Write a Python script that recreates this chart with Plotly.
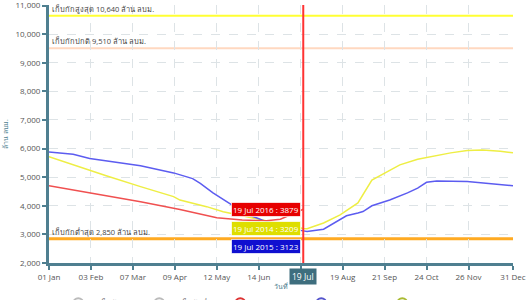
import plotly.graph_objects as go

# ---------------- data ----------------
dates_2016 = ["2016-01-01", "2016-02-02", "2016-03-13", "2016-04-13", "2016-05-12",
              "2016-06-01", "2016-06-20", "2016-07-01", "2016-07-08", "2016-07-14", "2016-07-19"]
vals_2016 = [4700, 4460, 4140, 3870, 3580, 3500, 3480, 3530, 3650, 3780, 3879]

dates_2015 = ["2016-01-01", "2016-01-20", "2016-02-02", "2016-03-13", "2016-04-08", "2016-04-23",
              "2016-04-29", "2016-05-09", "2016-05-25", "2016-05-30", "2016-06-17", "2016-06-23",
              "2016-07-01", "2016-07-10", "2016-07-19", "2016-07-22", "2016-08-04", "2016-08-11",
              "2016-08-22", "2016-08-31", "2016-09-04", "2016-09-11", "2016-09-25", "2016-10-09",
              "2016-10-17", "2016-10-24", "2016-11-01", "2016-11-25", "2016-12-15", "2016-12-31"]
vals_2015 = [5880, 5800, 5650, 5400, 5150, 4950,
             4780, 4450, 4000, 3800, 3500, 3420,
             3300, 3200, 3123, 3100, 3180, 3360,
             3650, 3750, 3800, 4000, 4200, 4450,
             4620, 4820, 4870, 4850, 4780, 4700]

dates_2014 = ["2016-01-01", "2016-01-20", "2016-02-15", "2016-03-13", "2016-04-08", "2016-04-13",
              "2016-05-04", "2016-05-17", "2016-06-17", "2016-07-19", "2016-07-22", "2016-08-04",
              "2016-08-17", "2016-08-31", "2016-09-11", "2016-09-23", "2016-10-03", "2016-10-17",
              "2016-10-29", "2016-11-12", "2016-11-25", "2016-12-07", "2016-12-21", "2016-12-31"]
vals_2014 = [5720, 5430, 5050, 4670, 4320, 4200,
             3970, 3790, 3500, 3209, 3200, 3400,
             3680, 4100, 4900, 5190, 5430, 5630,
             5740, 5850, 5930, 5950, 5910, 5850]

ref_levels = [10640, 9510, 2850]
ref_labels = ["เก็บกักสูงสุด 10,640 ล้าน ลบม.", "เก็บกักปกติ 9,510 ล้าน ลบม.", "เก็บกักต่ำสุด 2,850 ล้าน ลบม."]

x_ticks = ["2016-01-01", "2016-02-03", "2016-03-07", "2016-04-09", "2016-05-12", "2016-06-14",
           "2016-07-17", "2016-08-19", "2016-09-21", "2016-10-24", "2016-11-26", "2016-12-31"]
x_ticktext = ["01 Jan", "03 Feb", "07 Mar", "09 Apr", "12 May", "14 Jun",
              "17 Jul", "19 Aug", "21 Sep", "24 Oct", "26 Nov", "31 Dec"]
y_ticks = [2000, 3000, 4000, 5000, 6000, 7000, 8000, 9000, 10000, 11000]

cursor_date = "2016-07-19"
cursor_label = "19 Jul"
cursor_series = ["2016", "2014", "2015"]
cursor_values = [3879, 3209, 3123]

legend_names = ["เก็บกักสูงสุด", "เก็บกักต่ำสุด", "2016", "2015", "2014"]

# ---------------- style ----------------
FONT = "Open Sans"
AXIS = "#4f7f90"
C16, C15, C14 = "#f05050", "#5c5cf0", "#eeee44"
ref_colors = ["#ffff33", "#ffd8c0", "#ffaa22"]
ref_widths = [2, 2, 3]
tip_colors = {"2016": "#e60000", "2014": "#dede00", "2015": "#1010d0"}
tip_shift = {"2016": 0, "2014": 0, "2015": -16}
legend_colors = ["#bbbbbb", "#bbbbbb", "#dd3333", "#5555cc", "#aabb33"]

fig = go.Figure()

for lvl, col, w in zip(ref_levels, ref_colors, ref_widths):
    fig.add_hline(y=lvl, line=dict(color=col, width=w), layer="below")

fig.add_trace(go.Scatter(x=dates_2014, y=vals_2014, mode="lines",
                         line=dict(color=C14, width=1.5), showlegend=False))
fig.add_trace(go.Scatter(x=dates_2015, y=vals_2015, mode="lines",
                         line=dict(color=C15, width=1.5), showlegend=False))
fig.add_trace(go.Scatter(x=dates_2016, y=vals_2016, mode="lines",
                         line=dict(color=C16, width=1.5), showlegend=False))

for name, col in zip(legend_names, legend_colors):
    fig.add_trace(go.Scatter(x=[None], y=[None], mode="markers", name=name,
                             marker=dict(symbol="circle", size=10, color="white",
                                         line=dict(color=col, width=2))))

# crosshair
fig.add_vline(x=cursor_date, line=dict(color="#ff3333", width=2))

anns = []
for lvl, txt in zip(ref_levels, ref_labels):
    anns.append(dict(x=0, xref="paper", y=lvl, yref="y", text=txt, showarrow=False,
                     xanchor="left", yanchor="bottom", xshift=1, yshift=0,
                     font=dict(family=FONT, size=7.5, color="#444")))

for s, v in zip(cursor_series, cursor_values):
    anns.append(dict(x=cursor_date, xref="x", y=v, yref="y",
                     text=f"{cursor_label} {s} : {v}", showarrow=False,
                     xanchor="right", yanchor="middle", xshift=-2, yshift=tip_shift[s],
                     bgcolor=tip_colors[s], bordercolor="rgba(255,255,255,0.7)", borderwidth=1,
                     borderpad=1, font=dict(family=FONT, size=8, color="white")))

anns.append(dict(x=cursor_date, xref="x", y=0, yref="paper", text=cursor_label,
                 showarrow=False, xanchor="center", yanchor="top", yshift=-5,
                 bgcolor="#3e6e7e", borderpad=2, font=dict(family=FONT, size=8.5, color="white")))

fig.update_layout(
    width=526, height=300,
    margin=dict(l=49, r=13, t=5, b=37, autoexpand=False),
    paper_bgcolor="white", plot_bgcolor="white",
    font=dict(family=FONT, size=8, color="#555"),
    annotations=anns,
    showlegend=True,
    legend=dict(orientation="h", x=0.02, xanchor="left", y=-0.1, yanchor="top",
                font=dict(family=FONT, size=8, color="#555"), entrywidth=36,
                entrywidthmode="pixels", bgcolor="rgba(0,0,0,0)"),
    xaxis=dict(range=["2016-01-01", "2016-12-31"], tickvals=x_ticks, ticktext=x_ticktext,
               showline=True, linecolor=AXIS, linewidth=3, ticks="outside", ticklen=4,
               tickcolor=AXIS, tickwidth=2, showgrid=True, gridcolor="#dde3e6", griddash="dash",
               gridwidth=1, zeroline=False, tickfont=dict(family=FONT, size=8, color="#555"),
               ticklabeloverflow="allow",
               title=dict(text="วันที่", font=dict(family=FONT, size=7, color="#4f7f90"), standoff=4)),
    yaxis=dict(range=[2000, 11020], tickvals=y_ticks, tickformat=",",
               showline=True, linecolor=AXIS, linewidth=3, ticks="outside", ticklen=4,
               tickcolor=AXIS, tickwidth=2, showgrid=True, gridcolor="#dde3e6", griddash="dash",
               gridwidth=1, zeroline=False, tickfont=dict(family=FONT, size=8, color="#555"),
               ticklabeloverflow="allow",
               title=dict(text="ล้าน ลบม.", font=dict(family=FONT, size=7, color="#4f7f90"), standoff=6)),
)

fig.write_html("out.html", config={"displayModeBar": False},
               post_script="document.body.style.margin='0px';document.body.style.overflow='hidden';")
